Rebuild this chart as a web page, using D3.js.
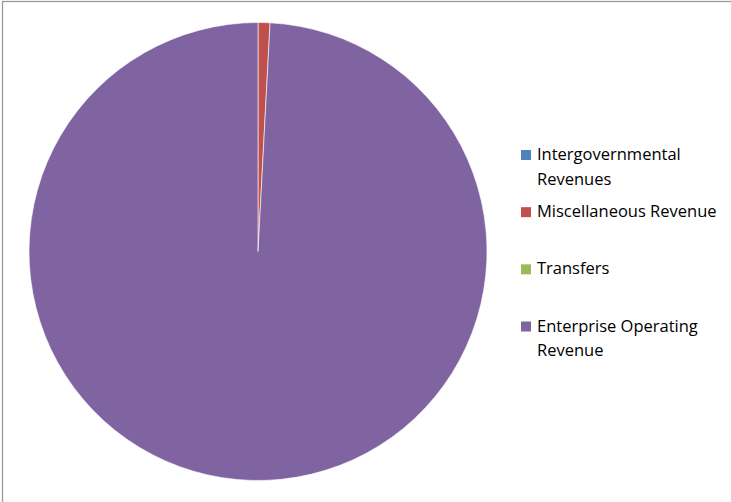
<!DOCTYPE html>
<html>
<head>
<meta charset="utf-8">
<script src="https://cdn.jsdelivr.net/npm/d3@7"></script>
<style>
  body { margin: 0; background: #fff; }
  svg { display: block; font-family: "Open Sans", Lato, sans-serif; }
</style>
</head>
<body>
<div id="chart"></div>
<script>
const width = 731, height = 502;

const categories = [
  "Intergovernmental Revenues",
  "Miscellaneous Revenue",
  "Transfers",
  "Enterprise Operating Revenue"
];
const values = [0, 0.84, 0, 99.16];
const legendLines = [
  ["Intergovernmental", "Revenues"],
  ["Miscellaneous Revenue"],
  ["Transfers"],
  ["Enterprise Operating", "Revenue"]
];
const colors = ["#4F81BD", "#C0504D", "#9BBB59", "#8064A2"];

const data = categories.map((c, i) => ({ name: c, value: values[i], lines: legendLines[i] }));

const svg = d3.select("#chart")
  .append("svg")
  .attr("width", width)
  .attr("height", height);

// chart frame (runs off the right and bottom edges)
svg.append("rect")
  .attr("x", 2.5)
  .attr("y", 1.5)
  .attr("width", width + 10)
  .attr("height", height + 10)
  .attr("fill", "#fff")
  .attr("stroke", "#9a9a9a")
  .attr("stroke-width", 1.3);

const color = d3.scaleOrdinal()
  .domain(categories)
  .range(colors);

const cx = 258, cy = 251.5, radius = 229;

const pie = d3.pie()
  .sort(null)
  .value(d => d.value);

const arc = d3.arc()
  .innerRadius(0)
  .outerRadius(radius);

svg.append("g")
  .attr("transform", `translate(${cx},${cy})`)
  .selectAll("path")
  .data(pie(data).filter(d => d.data.value > 0))
  .join("path")
  .attr("d", arc)
  .attr("fill", d => color(d.data.name))
  .attr("stroke", "#fff")
  .attr("stroke-width", 0.6);

// legend
const legendY = d3.scalePoint()
  .domain(categories)
  .range([155, 326.5]);

const legend = svg.append("g")
  .selectAll("g")
  .data(data)
  .join("g")
  .attr("transform", d => `translate(521,${legendY(d.name)})`);

legend.append("rect")
  .attr("x", 0)
  .attr("y", -5)
  .attr("width", 10)
  .attr("height", 10)
  .attr("fill", d => color(d.name));

legend.append("text")
  .attr("x", 16)
  .attr("y", 5)
  .style("font-size", "16.5px")
  .style("fill", "#000")
  .selectAll("tspan")
  .data(d => d.lines)
  .join("tspan")
  .attr("x", 16)
  .attr("dy", (d, i) => i === 0 ? 0 : 24.5)
  .text(d => d);
</script>
</body>
</html>
